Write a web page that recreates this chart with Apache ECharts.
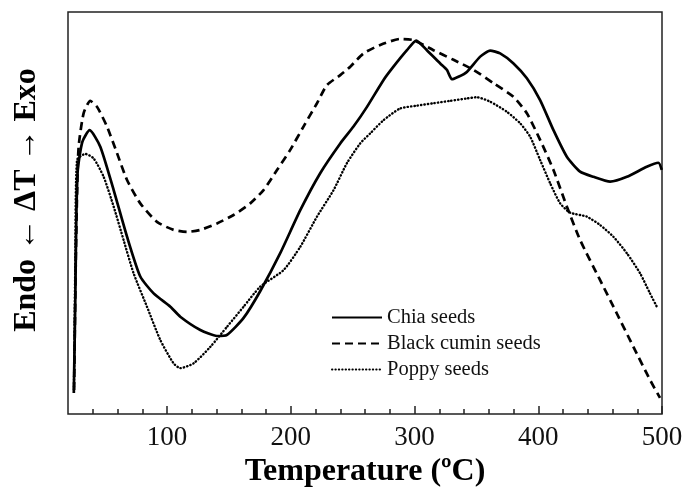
<!DOCTYPE html>
<html>
<head>
<meta charset="utf-8">
<script src="https://cdn.jsdelivr.net/npm/echarts@6/dist/echarts.min.js"></script>
<style>
  html, body { margin: 0; padding: 0; background: #fff; }
  #chart { width: 683px; height: 494px; }
</style>
</head>
<body>
<div id="chart"></div>
<script>
// temperature (ºC) vs. relative ΔT signal (arbitrary units, 0..100)
var chiaSeeds = [
  [24.7, 5.2], [25.9, 28.4], [26.7, 48.3], [27.9, 60.7], [31.6, 67.7], [37.5, 70.6],
  [46.1, 66.5], [56.9, 55.7], [67.7, 44.1], [78.4, 34.2], [89.2, 30.0], [102.7, 26.7],
  [110.7, 24.2], [126.9, 20.9], [140.4, 19.4], [148.5, 19.7], [161.9, 23.9], [175.4, 30.6],
  [191.5, 40.0], [207.7, 50.7], [223.8, 59.9], [240, 67.3], [250.7, 71.5], [261.6, 76.4],
  [275, 83.1], [283, 86.4], [293.9, 90.5], [301.4, 92.9], [310, 90.5], [320.8, 87.2],
  [326.2, 85.6], [330.2, 83.3], [335.5, 83.9], [342.3, 85.1], [353.1, 88.9], [361.1, 90.4],
  [369.2, 89.7], [380, 87.2], [390.8, 83.5], [401.5, 78.1], [412.3, 70.6], [423.1, 64.0],
  [433.8, 60.3], [444.6, 59.0], [458.1, 57.8], [471.6, 59.0], [487.7, 61.5], [497.1, 62.5],
  [499.8, 60.7]
];
var blackCuminSeeds = [
  [24.9, 6.0], [26.3, 38.3], [27.4, 55.7], [28.6, 66.5], [32.6, 74.8], [38.0, 77.9],
  [43.5, 76.4], [51.5, 71.5], [59.6, 64.9], [67.7, 58.2], [78.4, 52.4], [91.9, 47.8],
  [105.3, 45.8], [116.2, 45.3], [126.9, 45.8], [140.4, 47.4], [153.8, 49.5], [167.3, 52.4],
  [178.0, 55.7], [188.9, 60.7], [199.6, 65.7], [210.3, 71.5], [221.2, 77.3], [229.2, 81.8],
  [240, 84.3], [248.1, 86.4], [258.8, 89.7], [272.3, 91.8], [288.4, 93.3], [299.2, 93.0],
  [315.3, 90.5], [331.5, 88.1], [347.7, 85.6], [363.8, 82.3], [380, 78.9], [390.8, 74.8],
  [401.5, 68.2], [412.3, 60.7], [423.1, 51.6], [433.8, 43.3], [450, 33.3], [463.5, 25.0],
  [476.9, 16.7], [490.3, 8.5], [498.4, 4.0]
];
var poppySeeds = [
  [24.8, 6.0], [25.9, 38.3], [27.3, 63.2], [34.0, 64.7], [40.7, 63.6], [48.8, 59.0],
  [56.9, 51.6], [64.9, 43.3], [73.0, 35.0], [83.8, 26.7], [94.6, 18.4], [105.3, 12.6],
  [110.7, 11.4], [121.5, 12.6], [135.0, 16.7], [148.5, 21.7], [161.9, 26.7], [175.4, 31.7],
  [194.2, 35.8], [207.7, 41.6], [221.2, 49.1], [234.6, 55.7], [245.4, 62.4], [256.1, 67.3],
  [264.2, 69.8], [275.0, 73.1], [288.4, 76.0], [301.9, 76.7], [315.3, 77.3], [328.8, 77.9],
  [342.3, 78.5], [350.4, 78.8], [361.1, 77.7], [374.6, 75.2], [385.4, 72.3], [393.4, 69.0],
  [401.5, 63.2], [409.6, 57.4], [417.7, 52.4], [425.7, 50.1], [439.2, 49.1], [450, 47.0],
  [460.7, 44.1], [471.6, 40.0], [482.3, 35.0], [490.3, 30.0], [495.8, 26.7]
];
var majorTicks = [100, 200, 300, 400, 500];
var minorTicks = [40, 60, 80, 120, 140, 160, 180, 220, 240, 260, 280,
                  320, 340, 360, 380, 420, 440, 460, 480];

var serif = '"Liberation Serif", "Times New Roman", serif';
var chart = echarts.init(document.getElementById('chart'));

chart.setOption({
  animation: false,
  grid: {
    left: 68, right: 21, top: 12, bottom: 80,
    outerBoundsMode: 'none',
    show: true,
    borderColor: '#222',
    borderWidth: 1.5
  },
  legend: {
    orient: 'vertical',
    left: 326,
    top: 302,
    itemWidth: 50,
    itemHeight: 14,
    itemGap: 5,
    itemStyle: { opacity: 0 },
    textStyle: { fontFamily: serif, fontSize: 20.5, color: '#111' },
    data: ['Chia seeds', 'Black cumin seeds', 'Poppy seeds']
  },
  xAxis: [
    {
      type: 'value',
      min: 20, max: 500,
      position: 'bottom',
      name: 'Temperature (ºC)',
      nameLocation: 'middle',
      nameGap: 42,
      nameTextStyle: { fontFamily: serif, fontSize: 32, fontWeight: 'bold', color: '#000' },
      axisLine: { show: false },
      splitLine: { show: false },
      axisTick: {
        show: true, inside: true, length: 8,
        customValues: majorTicks,
        lineStyle: { color: '#222', width: 1.5 }
      },
      axisLabel: {
        customValues: majorTicks,
        margin: 10,
        fontFamily: serif, fontSize: 27, color: '#111'
      }
    },
    {
      type: 'value',
      min: 20, max: 500,
      position: 'bottom',
      axisLine: { show: false },
      splitLine: { show: false },
      axisLabel: { show: false },
      axisTick: {
        show: true, inside: true, length: 5,
        customValues: minorTicks,
        lineStyle: { color: '#222', width: 1.5 }
      }
    }
  ],
  yAxis: {
    type: 'value',
    min: 0, max: 100,
    axisLine: { show: false },
    axisTick: { show: false },
    axisLabel: { show: false },
    splitLine: { show: false }
  },
  graphic: [{
    type: 'text',
    x: 27, y: 200,
    rotation: Math.PI / 2,
    style: {
      text: 'Endo ← ΔT → Exo',
      fontFamily: serif, fontSize: 32, fontWeight: 'bold',
      fill: '#000',
      align: 'center', verticalAlign: 'middle'
    }
  }],
  series: [
    {
      name: 'Chia seeds', type: 'line', data: chiaSeeds,
      symbol: 'none', smooth: 0.2,
      lineStyle: { color: '#000', width: 2.7, type: 'solid' },
      itemStyle: { color: '#000' }
    },
    {
      name: 'Black cumin seeds', type: 'line', data: blackCuminSeeds,
      symbol: 'none', smooth: 0.2,
      lineStyle: { color: '#000', width: 2.7, type: [8, 5] },
      itemStyle: { color: '#000' }
    },
    {
      name: 'Poppy seeds', type: 'line', data: poppySeeds,
      symbol: 'none', smooth: 0.2,
      lineStyle: { color: '#000', width: 2.4, type: [0.4, 3], cap: 'round' },
      itemStyle: { color: '#000' }
    }
  ]
});
</script>
</body>
</html>
